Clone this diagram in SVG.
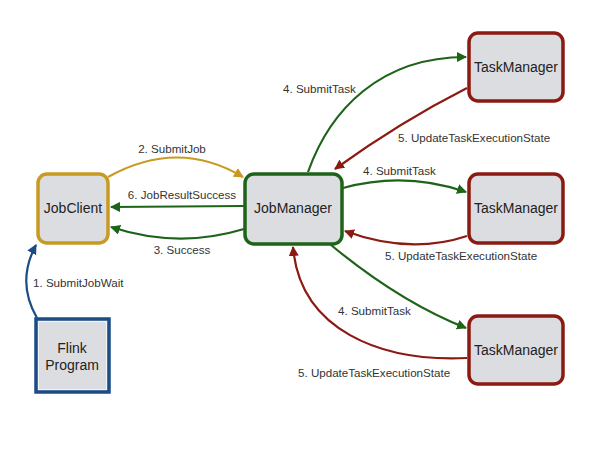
<svg xmlns="http://www.w3.org/2000/svg" width="600" height="450" viewBox="0 0 600 450">
<defs>
<marker id="aGold" viewBox="0 0 10 10" refX="9" refY="5" markerWidth="10" markerHeight="10" markerUnits="userSpaceOnUse" orient="auto"><path d="M0,0 L10,5 L0,10 z" fill="#C99A22"/></marker>
<marker id="aGreen" viewBox="0 0 10 10" refX="9" refY="5" markerWidth="10" markerHeight="10" markerUnits="userSpaceOnUse" orient="auto"><path d="M0,0 L10,5 L0,10 z" fill="#1D6419"/></marker>
<marker id="aRed" viewBox="0 0 10 10" refX="9" refY="5" markerWidth="10" markerHeight="10" markerUnits="userSpaceOnUse" orient="auto"><path d="M0,0 L10,5 L0,10 z" fill="#8A1A12"/></marker>
<marker id="aBlue" viewBox="0 0 10 10" refX="9" refY="5" markerWidth="10" markerHeight="10" markerUnits="userSpaceOnUse" orient="auto"><path d="M0,0 L10,5 L0,10 z" fill="#1C4C86"/></marker>
</defs>
<style>
.box{fill:#DCDDE0;stroke-width:3.5}
.inner{fill:none;stroke:#ffffff;stroke-width:0.8;opacity:0.8}
.nt{font-family:"Liberation Sans",Arial,sans-serif;font-size:14px;fill:#222;text-anchor:middle}
.lb{font-family:"Liberation Sans",Arial,sans-serif;font-size:11.6px;fill:#333}
.c{fill:none;stroke-width:2.2}
.gold{stroke:#C99A22}
.green{stroke:#1D6419}
.red{stroke:#8A1A12}
.blue{stroke:#1C4C86}
</style>
<rect width="600" height="450" fill="#ffffff"/>
<g id="connectors">
<path class="c blue" d="M37,318 Q16,282 36,245" marker-end="url(#aBlue)"/>
<path class="c gold" d="M108,177 Q178,138 243,177" marker-end="url(#aGold)"/>
<path class="c green" d="M244,206 L111,207" marker-end="url(#aGreen)"/>
<path class="c green" d="M244,229 Q178,249 111,227" marker-end="url(#aGreen)"/>
<path class="c green" d="M308,172 C330,110 380,57 466,57" marker-end="url(#aGreen)"/>
<path class="c red" d="M467,88 Q400,122 335,169" marker-end="url(#aRed)"/>
<path class="c green" d="M343,188 Q405,171 466,192" marker-end="url(#aGreen)"/>
<path class="c red" d="M467,236 Q410,255 345,231" marker-end="url(#aRed)"/>
<path class="c green" d="M331,245 Q400,302 466,328" marker-end="url(#aGreen)"/>
<path class="c red" d="M467,358 C380,362 300,330 293,247" marker-end="url(#aRed)"/>
</g>
<g id="labels">
<text class="lb" x="172" y="153" text-anchor="middle">2. SubmitJob</text>
<text class="lb" x="182" y="199" text-anchor="middle">6. JobResultSuccess</text>
<text class="lb" x="182" y="254" text-anchor="middle">3. Success</text>
<text class="lb" x="33" y="287">1. SubmitJobWait</text>
<text class="lb" x="283" y="93">4. SubmitTask</text>
<text class="lb" x="398" y="142">5. UpdateTaskExecutionState</text>
<text class="lb" x="363" y="175">4. SubmitTask</text>
<text class="lb" x="385" y="260">5. UpdateTaskExecutionState</text>
<text class="lb" x="338" y="315">4. SubmitTask</text>
<text class="lb" x="298" y="377">5. UpdateTaskExecutionState</text>
</g>
<g id="flinkProgram">
<rect class="box" x="36" y="319" width="73" height="73" stroke="#1C4C86"/>
<rect class="inner" x="38.5" y="321.5" width="68" height="68"/>
<text class="nt" x="72" y="353">Flink</text>
<text class="nt" x="72" y="370">Program</text>
</g>
<g id="jobClient">
<rect class="box" x="38" y="174" width="70" height="69" rx="9" stroke="#C99A22"/>
<text class="nt" x="73" y="213">JobClient</text>
</g>
<g id="jobManager">
<rect class="box" x="245" y="174" width="97" height="70" rx="9" stroke="#1D6419"/>
<text class="nt" x="293" y="213">JobManager</text>
</g>
<g id="taskManager1">
<rect class="box" x="469" y="33" width="94" height="68" rx="9" stroke="#8A1A12"/>
<text class="nt" x="516" y="72">TaskManager</text>
</g>
<g id="taskManager2">
<rect class="box" x="469" y="174" width="94" height="69" rx="9" stroke="#8A1A12"/>
<text class="nt" x="516" y="213">TaskManager</text>
</g>
<g id="taskManager3">
<rect class="box" x="469" y="316" width="94" height="68" rx="9" stroke="#8A1A12"/>
<text class="nt" x="516" y="355">TaskManager</text>
</g>
</svg>
